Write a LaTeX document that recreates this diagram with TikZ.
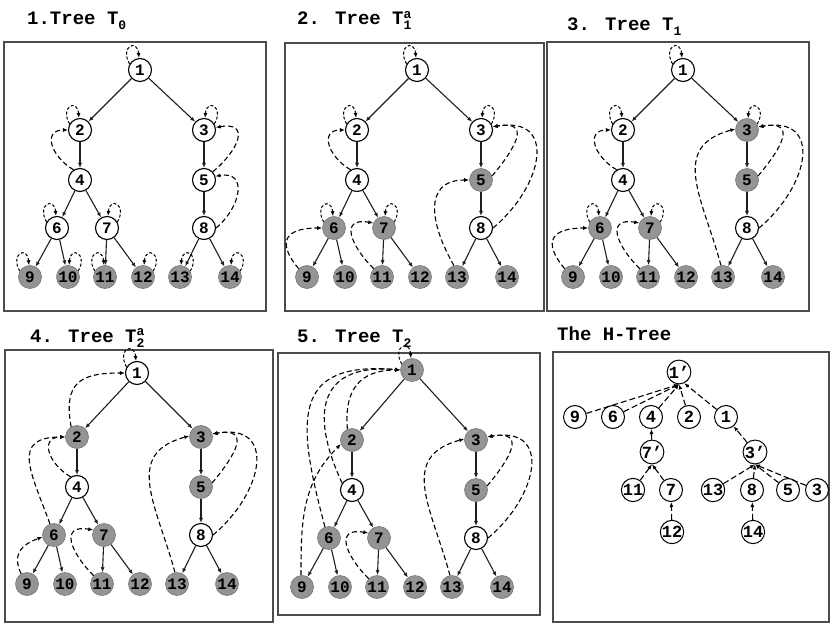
\documentclass[tikz,border=0pt]{standalone}
\usepackage{fontspec}
\setmainfont{Liberation Mono}
\usetikzlibrary{arrows.meta}

\definecolor{nodegrey}{gray}{0.58}
\definecolor{framegrey}{gray}{0.3}
\definecolor{edgegrey}{gray}{0.12}

% indices in the panel titles
\newcommand{\tsub}[1]{\raisebox{-5bp}{\fontsize{13bp}{13bp}\selectfont#1}}
\newcommand{\tsup}[1]{\raisebox{6.5bp}{\fontsize{13bp}{13bp}\selectfont#1}}

% nodes 2..14 of the binary tree, in panel coordinates
\newcommand{\treenodes}{2/76/-88, 3/200/-88, 4/76/-138, 5/200/-138,
  6/53/-186, 7/103/-186, 8/200/-186, 9/26/-235, 10/64/-235,
  11/101/-235, 12/139/-235, 13/176/-235, 14/226/-235}

% one tree: #1 prefix of the node names, #2 height of the root
\newcommand{\basetree}[2]{%
  \node[tnode, g1/.try] (#11) at (136,#2) {1};
  \foreach \n/\x/\y in \treenodes
    \node[tnode, g\n/.try] (#1\n) at (\x,\y) {\n};
  \foreach \p/\c in {1/2,1/3,2/4,3/5,4/6,4/7,5/8,6/9,6/10,7/11,7/12,8/13,8/14}
    \draw[treeedge] (#1\p) -- (#1\c);
}

\begin{document}
\begin{tikzpicture}[x=1bp, y=1bp,
    >={Latex[length=5bp,width=4bp]},
    tnode/.style={circle, draw, line width=1.1bp, minimum size=23bp, inner sep=0pt,
      fill=white, font=\fontsize{16bp}{16bp}\selectfont\bfseries},
    greynode/.style={fill=nodegrey, draw=nodegrey!80!black, line width=0.6bp},
    greyed/.code={\tikzset{g#1/.style=greynode}},
    treeedge/.style={->, line width=1.1bp, draw=edgegrey},
    backptr/.style={->, line width=1.1bp, dash pattern=on 5bp off 3bp},
    selfloop/.style={->, line width=1bp, dash pattern=on 3bp off 2bp},
    panelframe/.style={draw=framegrey, line width=1.4bp},
    paneltitle/.style={anchor=base west, inner sep=0pt,
      font=\fontsize{19bp}{19bp}\selectfont\bfseries},
    hnode/.style={circle, draw, line width=1bp, minimum size=23bp, inner sep=0pt,
      font=\fontsize{17bp}{17bp}\selectfont\bfseries},
    hptr/.style={->, line width=1.1bp, dash pattern=on 6bp off 3bp},
  ]
  \useasboundingbox (0,0) rectangle (830,-623);

  % titles
  \node[paneltitle] (t1) at (27,-25) {1.Tree T\tsub{0}};
  \node[paneltitle] (t2) at (297,-25) {2. Tree T\rlap{\tsup{a}}\tsub{1}};
  \node[paneltitle] (t3) at (567,-31) {3. Tree T\tsub{1}};
  \node[paneltitle] (t4) at (30,-342) {4. Tree T\rlap{\tsup{a}}\tsub{2}};
  \node[paneltitle] (t5) at (297,-342) {5. Tree T\tsub{2}};
  \node[paneltitle] (t6) at (557,-340) {The H-Tree};

  % frames
  \draw[panelframe] (4,-42) rectangle (266,-311);
  \draw[panelframe] (285,-43) rectangle (544,-311);
  \draw[panelframe] (547,-42) rectangle (809,-311);
  \draw[panelframe] (5,-350) rectangle (273,-622);
  \draw[panelframe] (278,-353) rectangle (540,-615);
  \draw[panelframe] (553,-352) rectangle (829,-622);

  % tree T0
  \begin{scope}[shift={(4,-42)}, greyed/.list={9,10,11,12,13,14}]
    \basetree{a}{-28}
    \foreach \n in {1,2,6,9,11}
      \draw[selfloop] (a\n.150) .. controls +(120:20) and +(95:20) .. (a\n.95);
    \foreach \n in {3,7,10,12,13,14}
      \draw[selfloop] (a\n.30) .. controls +(60:20) and +(85:20) .. (a\n.85);
    \draw[backptr] (a4.122) to[out=150, in=180, distance=26bp] (a2.west);
    \draw[backptr] (a5.43) to[out=40, in=10, distance=35bp] (a3.12);
    \draw[backptr] (a8.east) to[out=40, in=10, distance=33bp] (a5.18);
  \end{scope}

  % tree T1a
  \begin{scope}[shift={(281,-42)}, greyed/.list={5,6,7,9,10,11,12,13,14}]
    \basetree{b}{-28}
    \foreach \n in {1,2,6}
      \draw[selfloop] (b\n.150) .. controls +(120:20) and +(95:20) .. (b\n.95);
    \foreach \n in {3,7}
      \draw[selfloop] (b\n.30) .. controls +(60:20) and +(85:20) .. (b\n.85);
    \draw[backptr] (b4.122) to[out=150, in=180, distance=26bp] (b2.west);
    \draw[backptr] (b9.135) to[out=130, in=180, distance=36bp] (b6.west);
    \draw[backptr] (b11.135) to[out=135, in=170, distance=34bp] (b7.155);
    \draw[backptr] (b13.105) to[out=120, in=180, distance=47bp] (b5.west);
    \draw[backptr] (b5.20) to[out=50, in=10, distance=39bp] (b3.15);
    \draw[backptr] (b8.east) to[out=40, in=10, distance=66bp] (b3.15);
  \end{scope}

  % tree T1
  \begin{scope}[shift={(547,-42)}, greyed/.list={3,5,6,7,9,10,11,12,13,14}]
    \basetree{c}{-28}
    \foreach \n in {1,2,6}
      \draw[selfloop] (c\n.150) .. controls +(120:20) and +(95:20) .. (c\n.95);
    \foreach \n in {3,7}
      \draw[selfloop] (c\n.30) .. controls +(60:20) and +(85:20) .. (c\n.85);
    \draw[backptr] (c4.122) to[out=150, in=180, distance=26bp] (c2.west);
    \draw[backptr] (c9.135) to[out=130, in=180, distance=36bp] (c6.west);
    \draw[backptr] (c11.135) to[out=135, in=170, distance=34bp] (c7.155);
    \draw[backptr] (c13.100) to[out=105, in=195, distance=69bp] (c3.175);
    \draw[backptr] (c5.20) to[out=50, in=10, distance=39bp] (c3.15);
    \draw[backptr] (c8.east) to[out=40, in=10, distance=66bp] (c3.15);
  \end{scope}

  % tree T2a
  \begin{scope}[shift={(1,-349)}, greyed/.list={2,3,5,6,7,9,10,11,12,13,14}]
    \basetree{d}{-24}
    \draw[selfloop] (d1.150) .. controls +(120:20) and +(95:20) .. (d1.95);
    \draw[backptr] (d2.120) to[out=100, in=180, distance=45bp] (d1.west);
    \draw[backptr] (d4.122) to[out=150, in=180, distance=26bp] (d2.west);
    \draw[backptr] (d6.110) to[out=110, in=180, distance=55bp] (d2.west);
    \draw[backptr] (d9.120) to[out=115, in=200, distance=22bp] (d6.190);
    \draw[backptr] (d11.135) to[out=135, in=170, distance=34bp] (d7.155);
    \draw[backptr] (d13.100) to[out=105, in=195, distance=69bp] (d3.175);
    \draw[backptr] (d5.20) to[out=50, in=10, distance=39bp] (d3.15);
    \draw[backptr] (d8.east) to[out=40, in=10, distance=66bp] (d3.15);
  \end{scope}

  % tree T2
  \begin{scope}[shift={(276,-352)}, greyed/.list={1,2,3,5,6,7,9,10,11,12,13,14}]
    \basetree{e}{-18}
    \draw[selfloop] (e1.150) .. controls +(120:20) and +(95:20) .. (e1.95);
    \draw[backptr] (e2.113) to[out=95, in=180, distance=40bp] (e1.west);
    \draw[backptr] (e4.145) to[out=115, in=175, distance=80bp] (e1.west);
    \draw[backptr] (e6.110) to[out=105, in=175, distance=110bp] (e1.west);
    \draw[backptr] (e9.95) to[out=90, in=225, distance=55bp] (e2.200);
    \draw[backptr] (e11.135) to[out=135, in=170, distance=34bp] (e7.155);
    \draw[backptr] (e13.100) to[out=105, in=195, distance=69bp] (e3.175);
    \draw[backptr] (e5.20) to[out=50, in=10, distance=39bp] (e3.15);
    \draw[backptr] (e8.east) to[out=40, in=10, distance=66bp] (e3.15);
  \end{scope}

  % the H-tree
  \node[hnode] (h1p) at (679,-372) {1’};
  \foreach \n/\x in {9/575, 6/613, 4/651, 2/689, 1/726}
    \node[hnode] (h\n) at (\x,-417) {\n};
  \node[hnode] (h7p) at (652,-452) {7’};
  \node[hnode] (h3p) at (755,-452) {3’};
  \foreach \n/\x in {11/633, 7/671, 13/713, 8/752, 5/788, 3/817}
    \node[hnode] (h\n) at (\x,-490) {\n};
  \node[hnode] (h12) at (672,-532) {12};
  \node[hnode] (h14) at (753,-532) {14};

  \foreach \c in {9,6,4,2}
    \draw[hptr] (h\c) -- (h1p.south);
  \draw[hptr] (h1) -- (h1p.-65);
  \draw[hptr] (h3p) -- (h1);
  \draw[hptr] (h7p) -- (h4);
  \foreach \c in {11,7}
    \draw[hptr] (h\c) -- (h7p.south);
  \draw[hptr] (h12) -- (h7);
  \foreach \c in {13,8,5,3}
    \draw[hptr] (h\c) -- (h3p.south);
  \draw[hptr] (h14) -- (h8);
\end{tikzpicture}
\end{document}
